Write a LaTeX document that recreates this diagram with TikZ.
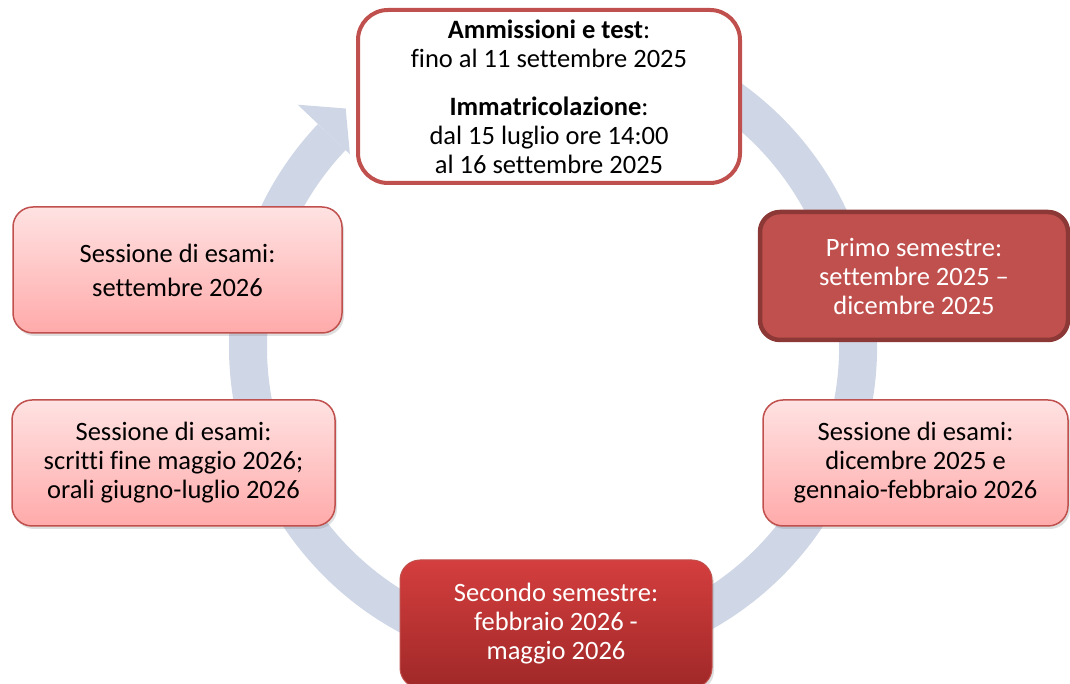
\documentclass[tikz,border=0pt]{standalone}
\usepackage{fontspec}
\setmainfont{Carlito}[Ligatures=NoCommon]
\usetikzlibrary{calc,shadows}

\definecolor{ringblue}{RGB}{207,214,230}
\definecolor{edgered}{RGB}{192,80,77}
\definecolor{darkedge}{RGB}{140,56,54}
\definecolor{pinktop}{RGB}{255,226,226}
\definecolor{pinkbot}{RGB}{255,170,170}
\definecolor{semtop}{RGB}{212,62,62}
\definecolor{sembot}{RGB}{160,40,40}

\tikzset{
  stage/.style={rounded corners=20pt, align=center, inner sep=0pt,
    font=\fontsize{26.5}{29}\selectfont},
  exams/.style={stage, draw=edgered, line width=1.5pt,
    top color=pinktop, bottom color=pinkbot,
    drop shadow={shadow xshift=2pt, shadow yshift=-3pt, opacity=0.25}},
  semester/.style={stage, text=white}
}

\begin{document}
\begin{tikzpicture}[x=1pt, y=1pt]
    \useasboundingbox (0,0) rectangle (1070,684);

    % Centre of the cycle
    \coordinate (C) at (553,337);

    % Circular arrow behind the boxes
    \draw[ringblue, line width=38pt]
        ($(C)+(70:305)$) arc[start angle=70, end angle=-223.5, radius=305];
    \fill[ringblue] ($(C)+(136.5:352)$) -- ($(C)+(131:316)$)
        -- ($(C)+(136.5:280)$) -- cycle;

    % Admission box
    \node[stage, draw=edgered, line width=4pt, fill=white, rounded corners=30pt,
          minimum width=382pt, minimum height=173pt] (adm) at (549,587.5)
        {\textbf{Ammissioni e test}:\\ fino al 11 settembre 2025\\[19pt]
         \textbf{Immatricolazione}:\\ dal 15 luglio ore 14:00\\ al 16 settembre 2025};

    % Semesters
    \node[semester, fill=edgered, draw=darkedge, line width=4.5pt,
          minimum width=308pt, minimum height=128pt] (sem1) at (914,408)
        {Primo semestre:\\ settembre 2025 --\\ dicembre 2025};
    \node[semester, draw=edgered, line width=1pt, top color=semtop, bottom color=sembot,
          drop shadow={shadow xshift=2pt, shadow yshift=-3pt, opacity=0.25},
          minimum width=312pt, minimum height=128pt] (sem2) at (556,60)
        {Secondo semestre:\\ febbraio 2026 -\\ maggio 2026};

    % Exam sessions
    \node[exams, minimum width=305pt, minimum height=126pt] (winter) at (915.5,221)
        {Sessione di esami:\\ dicembre 2025 e\\ gennaio-febbraio 2026};
    \node[exams, minimum width=323pt, minimum height=126pt] (summer) at (173.5,221)
        {Sessione di esami:\\ scritti fine maggio 2026;\\ orali giugno-luglio 2026};
    \node[exams, minimum width=329pt, minimum height=126pt] (autumn) at (177.5,414)
        {Sessione di esami:\\[5pt] settembre 2026};

\end{tikzpicture}
\end{document}
